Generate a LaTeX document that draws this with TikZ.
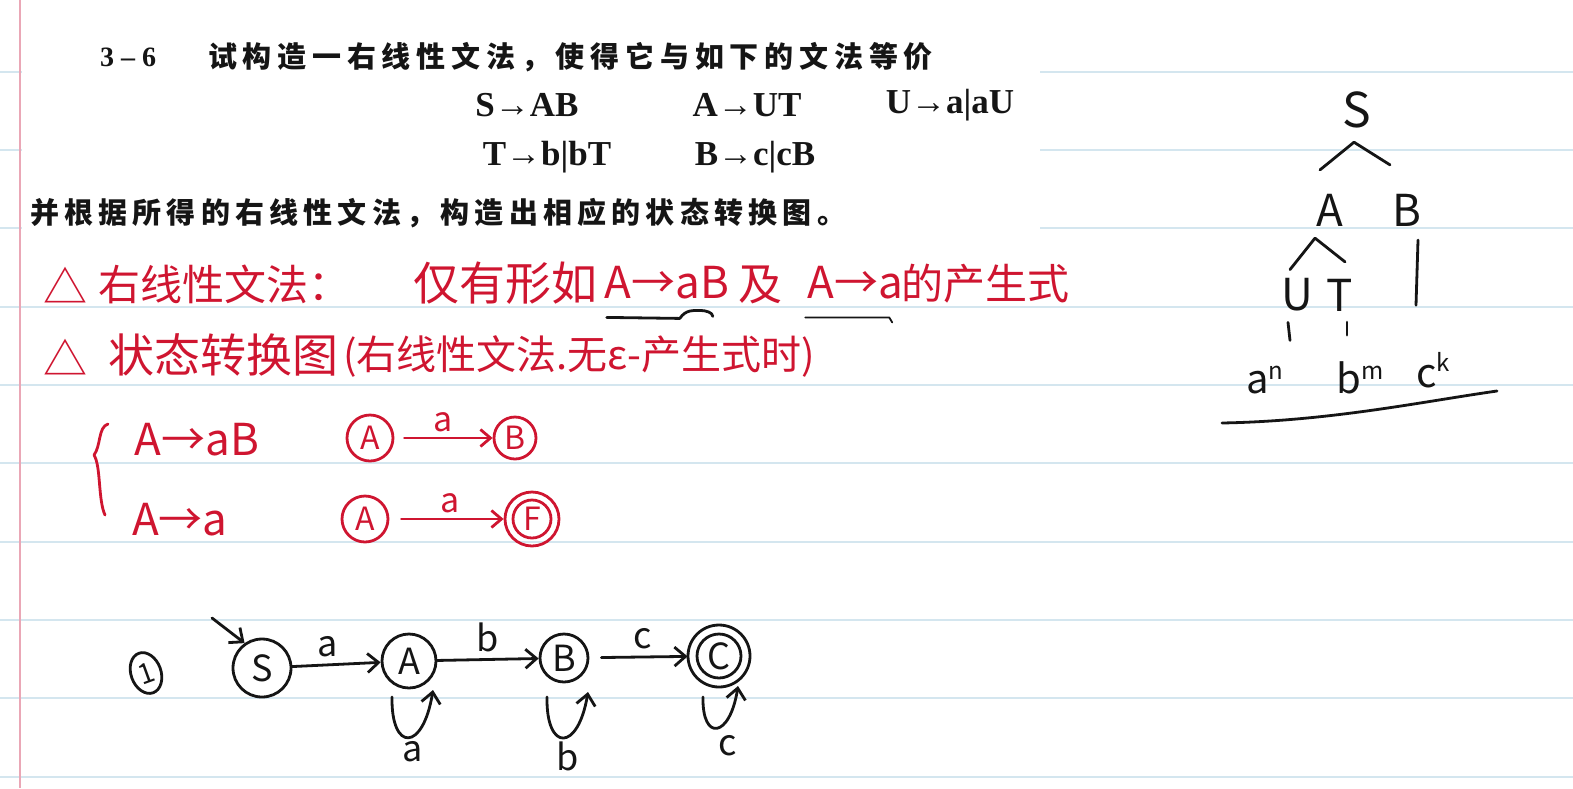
\documentclass[tikz,border=0pt]{standalone}
\usepackage{fontspec}
\setmainfont{Liberation Serif}
\newfontfamily\cjk{Noto Sans CJK SC}
\usetikzlibrary{arrows.meta,shapes.geometric,calc}
\definecolor{ink}{HTML}{151515}
\definecolor{pen}{HTML}{CF1530}
\definecolor{rulecol}{HTML}{D4E6EF}
\definecolor{margincol}{HTML}{EAA7B6}
\newcommand{\myfs}[1]{\fontsize{#1}{#1}\selectfont}
\begin{document}
\begin{tikzpicture}[x=1pt,y=-1pt,
  txt/.style={inner sep=0pt, outer sep=0pt},
  printcn/.style={txt, text=ink, font=\cjk\bfseries\myfs{29}},
  prod/.style={txt, text=ink, font=\bfseries\myfs{35}},
  redtxt/.style={txt, text=pen, font=\cjk\myfs{44}},
  rpen/.style={draw=pen, line width=2.8pt, line cap=round, line join=round},
  rstate/.style={circle, rpen, minimum size=46pt, inner sep=0pt, text=pen, font=\cjk\myfs{32}},
  rarrow/.style={rpen, -{Straight Barb[length=10pt,width=17pt]}},
  rlab/.style={txt, text=pen, font=\cjk\myfs{34}},
  hand/.style={draw=ink, line width=2.8pt, line cap=round, line join=round},
  harrow/.style={hand, -{Straight Barb[length=11pt,width=19pt]}},
  state/.style={circle, hand, minimum size=54pt, inner sep=0pt, text=ink, font=\cjk\myfs{36}},
  hlab/.style={txt, text=ink, font=\cjk\myfs{36}},
  treetxt/.style={txt, text=ink, font=\cjk\myfs{44}},
]
\fill[white] (0,0) rectangle (1573,788);
\useasboundingbox (0,0) rectangle (1573,788);
% ruled paper
\foreach \yy in {72,150,228,307,385,463,542,620,698,777}
  \draw[rulecol, line width=2pt] (0,\yy) -- (1573,\yy);
\fill[white] (22,0) rectangle (1040,236);
\draw[margincol, line width=1.5pt] (20,0) -- (20,788);

% printed exercise
\node[txt, text=ink, font=\bfseries\myfs{28}, anchor=west] (hnum) at (100,57) {3 – 6};
\node[printcn, anchor=west] (htitle) at (208,57) {\addfontfeature{LetterSpace=20}试构造一右线性文法，使得它与如下的文法等价};
\node[prod] (g1) at (527,105) {S→AB};
\node[prod] (g2) at (747,105) {A→UT};
\node[prod] (g3) at (950,105) {U→a|aU};
\node[prod] (g4) at (547,157) {T→b|bT};
\node[prod] (g5) at (755,157) {B→c|cB};
\node[printcn, anchor=west] (hline) at (30,213) {\addfontfeature{LetterSpace=18}并根据所得的右线性文法，构造出相应的状态转换图。};

% red notes, line 1
\node[redtxt] (t1) at (65,285) {△};
\node[redtxt, font=\cjk\myfs{42}, anchor=west] (t2) at (98,284) {右线性文法：};
\node[redtxt, font=\cjk\myfs{46}] (t3) at (505,283) {仅有形如};
\node[redtxt] (t4) at (667,283) {A→aB};
\node[redtxt] (t5) at (760,285) {及};
\node[redtxt] (t6) at (855,283) {A→a};
\node[redtxt, font=\cjk\myfs{42}] (t7) at (985,284) {的产生式};
\draw[hand] ($(t4.south west)+(2,18)$) -- ($(t4.south west)+(75,19)$)
  .. controls +(6,-9) and +(-6,0) .. ($(t4.south west)+(95,11)$)
  .. controls +(6,0) and +(0,-4) .. ($(t4.south west)+(108,17)$);
\draw[hand, line width=1.8pt] ($(t6.south west)+(-2,18)$) -- ($(t6.south west)+(82,18)$) -- ($(t6.south west)+(85,23)$);

% red notes, line 2
\node[redtxt] (u1) at (65,357) {△};
\node[redtxt, font=\cjk\myfs{46}, anchor=west] (u2) at (108,355) {状态转换图};
\node[redtxt, font=\cjk\myfs{40}, anchor=west] (u3) at (343,356) {(右线性文法.无ε-产生式时)};

% red rules
\draw[rpen] (108,424) .. controls (98,427) and (101,446) .. (94,455)
  .. controls (101,466) and (98,500) .. (105,515);
\node[redtxt] (v1) at (197,440) {A→aB};
\node[redtxt] (v2) at (180,520) {A→a};
\node[rstate] (RA1) at (370,438) {A};
\node[rstate, minimum size=42pt] (RB1) at (515,438) {B};
\draw[rarrow, shorten <=10pt] (RA1) -- node[rlab, above=6pt] (la1) {a} (RB1);
\node[rstate] (RA2) at (365,519) {A};
\node[rstate, minimum size=38pt] (RF) at (532,519) {F};
\draw[rpen] (RF) circle (27);
\draw[rarrow, shorten <=12pt, shorten >=8pt] (RA2) -- node[rlab, above=6pt] (la2) {a} (RF);

% automaton
\node[ellipse, hand, minimum width=30pt, minimum height=42pt, inner sep=0pt, text=ink, font=\cjk\myfs{28}, rotate=20] (one) at (146,673) {1};
\node[state, minimum size=58pt] (S) at (262,668) {S};
\node[state] (A) at (409,661) {A};
\node[state, minimum size=48pt] (B) at (564,658) {B};
\node[state, minimum size=44pt] (C) at (719,656) {C};
\draw[hand] (C) circle (31);
\coordinate (s0) at (212,618);
\draw[harrow] (s0) -- (S.125);
\draw[harrow] (S) -- node[hlab, above=8pt, pos=.4] (lsa) {a} (A);
\draw[harrow] (A) -- node[hlab, above=8pt] (lab) {b} (B);
\draw[harrow, shorten <=12pt, shorten >=8pt] (B) -- node[hlab, above=8pt] (lbc) {c} (C);
\draw[harrow] ($(A)+(-17,36)$) .. controls +(-1,55) and +(-10,62) .. ($(A)+(24,29)$);
\node[hlab] (loa) at (413,752) {a};
\draw[harrow] ($(B)+(-17,39)$) .. controls +(-1,55) and +(-10,60) .. ($(B)+(24,34)$);
\node[hlab] (lob) at (568,756) {b};
\draw[harrow] ($(C)+(-16,41)$) .. controls +(-1,45) and +(-8,52) .. ($(C)+(19,30)$);
\node[hlab] (loc) at (728,746) {c};

% derivation tree
\node[treetxt, font=\cjk\myfs{48}] (TS) at (1357,110) {S};
\node[treetxt] (TA) at (1330,210) {A};
\node[treetxt] (TB) at (1407,210) {B};
\node[treetxt] (TU) at (1297,295) {U};
\node[treetxt] (TT) at (1340,295) {T};
\node[treetxt, font=\cjk\myfs{40}] (an) at (1265,380) {a\raisebox{14pt}{\myfs{24}n}};
\node[treetxt, font=\cjk\myfs{40}] (bm) at (1360,378) {b\raisebox{14pt}{\myfs{24}m}};
\node[treetxt, font=\cjk\myfs{40}] (ck) at (1433,370) {c\raisebox{16pt}{\myfs{24}k}};
\draw[hand] ($(TA.north)+(-10,-24)$) -- ($(TS.south)+(-3,14)$) -- ($(TB.north)+(-17,-29)$);
\draw[hand] ($(TU.north)+(-7,-9)$) -- ($(TA.south)+(-15,12)$) -- ($(TT.north)+(5,-17)$);
\draw[hand] ($(TB.south)+(11,14)$) -- ($(TB.south)+(9,79)$);
\draw[hand] ($(TU.south)+(-9,11)$) -- ($(TU.south)+(-7,29)$);
\draw[hand] ($(TT.south)+(7,11)$) -- ($(TT.south)+(7,24)$);
\coordinate (ul0) at (1222,423);
\coordinate (ul1) at (1497,391);
\draw[hand] (ul0) .. controls (1330,421) and (1420,402) .. (ul1);
\end{tikzpicture}
\end{document}
